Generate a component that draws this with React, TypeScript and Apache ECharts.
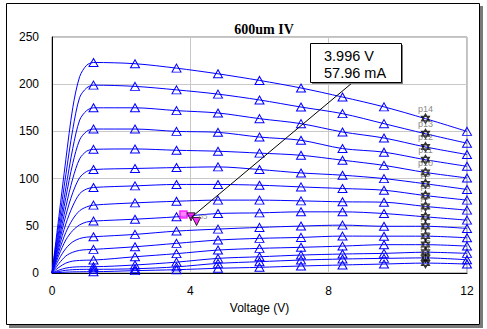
import React, { useEffect, useRef } from "react";
import * as echarts from "echarts";

// Drain voltage sample points (V)
const voltage = [0, 0.2, 0.4, 0.6, 0.8, 1.0, 1.2, 2.4, 3.6, 4.8, 6.0, 7.2, 8.4, 9.6, 10.8, 12];

// Drain current (mA) for each gate step
const p14 = [0, 60, 120, 175, 208, 220, 223, 221.7, 217, 211, 204, 196, 186.4, 176, 163.5, 150];
const p13 = [0, 52, 104, 152, 186, 196, 199, 197.7, 194, 189.5, 183.3, 175.8, 168.8, 158.2, 147.5, 137.5];
const p12 = [0, 45, 90, 132, 162, 172, 175, 175, 172, 169.5, 163.5, 158.2, 149.4, 143, 133.5, 125.5];
const p11 = [0, 40, 80, 116, 141, 150, 152.5, 152.5, 150, 149, 144, 140.6, 131.8, 128, 120, 113];
const p10 = [0, 35, 70, 100, 121, 129, 131, 131.4, 130, 129, 127, 124.7, 119.5, 114, 106.5, 100.7];
const p9 = [0, 31, 61, 85, 101, 107.5, 109.6, 110.7, 111.7, 112.4, 109.6, 106, 103.6, 100, 94.5, 88.5];
const p8 = [0, 27, 52, 71, 84, 89, 90.6, 92.3, 93.8, 93.8, 93, 91.2, 89.5, 87.7, 82, 77.2];
const p7 = [0, 23, 43, 57, 66, 70, 71.9, 74.3, 76, 77.2, 77.2, 76.4, 75.4, 75, 70.5, 66.6];
const p6 = [0, 19, 35, 45, 51, 54, 55, 57, 59.5, 63, 63.7, 64.8, 64.8, 63, 59.5, 56];
const p5 = [0, 14.5, 26, 33, 36.5, 38, 38.4, 40.9, 44.4, 46.5, 48.3, 49.7, 50.7, 49.5, 49.5, 47.2];
const p4 = [0, 10, 18, 22, 24, 24.7, 25, 27.8, 31.4, 34.9, 36.7, 37.7, 39.1, 39, 39, 37.3];
const p3 = [0, 6, 10.5, 12.6, 13.3, 13.6, 13.7, 17.2, 20.5, 24.3, 26.1, 27.2, 28.5, 30, 30, 28.5];
const p2 = [0, 3, 5.2, 6.2, 6.6, 6.7, 6.7, 8.5, 11.5, 15.5, 17.2, 19, 20.1, 20.8, 22, 20.8];
const p1 = [0, 1.6, 2.9, 3.5, 3.8, 3.9, 3.9, 4.5, 6.5, 10.2, 12, 13.7, 14.8, 15.5, 16, 14];
const p0 = [0, 0.5, 0.9, 1.2, 1.3, 1.4, 1.4, 2.5, 3.5, 5, 6, 7.4, 8.5, 9.5, 10.5, 9.5];

const curveNames = ["p0", "p1", "p2", "p3", "p4", "p5", "p6", "p7", "p8", "p9", "p10", "p11", "p12", "p13", "p14"];
// indices of sample points carrying a triangle marker
const triangleIdx = [6, 7, 8, 9, 10, 11, 12, 13, 15];
// index of the labelled star markers (10.8 V)
const starIdx = 14;

// cursor markers near the annotation
const cursorSquare = [[3.8, 62]];
const cursorTriangles = [[4.02, 59.5], [4.18, 54.5]];

// annotation
const annotV = 3.996;
const annotI = 57.96;
const annotLines = [`${annotV} V`, `${annotI} mA`];

const SANS = "'Liberation Sans', Arial, sans-serif";
const SERIF = "'Liberation Serif', 'Times New Roman', serif";

const HEX = "path://M0,-10L8.66,5L-8.66,5Z M0,10L8.66,-5L-8.66,-5Z";

export default function App() {
  const ref = useRef<HTMLDivElement>(null);

  useEffect(() => {
    const chart = echarts.init(ref.current!, null, { renderer: "svg" });
    const curves = [p0, p1, p2, p3, p4, p5, p6, p7, p8, p9, p10, p11, p12, p13, p14];
    const triSet = new Set(triangleIdx);

    const lineSeries = curves.map((c, k) => ({
      type: "line",
      name: curveNames[k],
      data: voltage.map((v, i) => ({
        value: [v, c[i]],
        symbol: triSet.has(i) ? "triangle" : "none",
      })),
      showSymbol: true,
      showAllSymbol: true,
      symbolSize: [9, 8],
      smooth: 0.3,
      lineStyle: { color: "#0000ff", width: 1 },
      itemStyle: { color: "rgba(255,255,255,0)", borderColor: "#0000ff", borderWidth: 1 },
      emphasis: { disabled: true },
      silent: true,
      z: 3,
    }));

    const starSeries = {
      type: "scatter",
      data: curves.map((c, k) => ({ name: curveNames[k], value: [voltage[starIdx], c[starIdx]] })),
      symbol: HEX,
      symbolSize: 9,
      symbolKeepAspect: true,
      itemStyle: { color: "rgba(0,0,0,0)", borderColor: "#000", borderWidth: 1.3 },
      label: {
        show: true,
        formatter: "{b}",
        position: "top",
        distance: 0,
        fontSize: 9,
        fontFamily: SANS,
        color: "#666",
      },
      labelLayout: { hideOverlap: false },
      silent: true,
      z: 5,
    };

    const cursorSeries1 = {
      type: "scatter",
      data: cursorSquare,
      symbol: "rect",
      symbolSize: 7,
      itemStyle: { color: "#ff66ff", borderColor: "#ff00ff", borderWidth: 1.5 },
      silent: true,
      z: 6,
    };
    const cursorSeries2 = {
      type: "scatter",
      data: cursorTriangles.map((d, i) => ({
        value: d,
        label: i === 0 ? { show: true, formatter: "p5", position: "right", distance: 3, fontSize: 8, color: "#777", fontFamily: SANS } : undefined,
      })),
      symbol: "triangle",
      symbolRotate: 180,
      symbolSize: 8,
      itemStyle: { color: "#ff00ff", borderColor: "#000", borderWidth: 1 },
      silent: true,
      z: 6,
    };

    chart.setOption({
      animation: false,
      backgroundColor: "#ffffff",
      title: {
        text: "600um IV",
        left: 259,
        top: 17,
        textAlign: "center",
        textStyle: { fontFamily: SERIF, fontWeight: "bold", fontSize: 14, color: "#000" },
      },
      grid: {
        left: 52,
        right: 20,
        top: 37,
        bottom: 56,
        show: true,
        borderColor: "#808080",
        borderWidth: 1,
      },
      xAxis: {
        type: "value",
        min: 0,
        max: 12,
        interval: 4,
        axisLine: { show: true, onZero: false, lineStyle: { color: "#000", width: 1 } },
        axisTick: { show: false },
        axisLabel: { fontSize: 12, color: "#000", margin: 12, fontFamily: SANS },
        splitLine: { show: true, lineStyle: { color: "#c8c8c8", width: 1 } },
        name: "Voltage (V)",
        nameLocation: "middle",
        nameGap: 27,
        nameTextStyle: { fontSize: 12, color: "#000", fontFamily: SANS },
      },
      yAxis: {
        type: "value",
        min: 0,
        max: 250,
        interval: 50,
        axisLine: { show: true, onZero: false, lineStyle: { color: "#000", width: 1 } },
        axisTick: { show: false },
        axisLabel: { fontSize: 12, color: "#000", margin: 13, fontFamily: SANS },
        splitLine: { show: true, lineStyle: { color: "#c8c8c8", width: 1 } },
      },
      series: [...lineSeries, starSeries, cursorSeries1, cursorSeries2],
    });

    const pt = chart.convertToPixel({ gridIndex: 0 }, [annotV, annotI]) as number[];
    const box = { x: 310, y: 43, w: 91, h: 39 };

    chart.setOption({
      graphic: [
        // outer frame shadow
        { type: "rect", silent: true, z: 1, shape: { x: 9, y: 325, width: 474, height: 3 }, style: { fill: "#7a7a7a" } },
        { type: "rect", silent: true, z: 1, shape: { x: 480, y: 6, width: 3, height: 322 }, style: { fill: "#7a7a7a" } },
        // outer frame
        {
          type: "rect",
          silent: true,
          z: 1,
          shape: { x: 6.5, y: 3.5, width: 473, height: 321 },
          style: { fill: "none", stroke: "#000", lineWidth: 1 },
        },
        // leader line
        {
          type: "line",
          silent: true,
          z: 99,
          shape: { x1: box.x + 42, y1: box.y + box.h + 1, x2: pt[0], y2: pt[1] },
          style: { stroke: "#000", lineWidth: 1 },
        },
        // box shadow
        { type: "rect", silent: true, z: 100, shape: { x: box.x + 2, y: box.y + 2, width: box.w, height: box.h }, style: { fill: "#808080" } },
        {
          type: "rect",
          silent: true,
          z: 101,
          shape: { x: box.x + 0.5, y: box.y + 0.5, width: box.w, height: box.h },
          style: { fill: "#fff", stroke: "#000", lineWidth: 1 },
        },
        {
          type: "text",
          silent: true,
          z: 102,
          x: box.x + 14,
          y: box.y + 13,
          style: { text: annotLines[0], fontSize: 14.5, fontFamily: SANS, fill: "#000", verticalAlign: "middle" },
        },
        {
          type: "text",
          silent: true,
          z: 102,
          x: box.x + 14,
          y: box.y + 30,
          style: { text: annotLines[1], fontSize: 14.5, fontFamily: SANS, fill: "#000", verticalAlign: "middle" },
        },
      ],
    });

    return () => chart.dispose();
  }, []);

  return (
    <div
      ref={ref}
      style={{ position: "absolute", left: 0, top: 0, width: 487, height: 329 }}
    />
  );
}
